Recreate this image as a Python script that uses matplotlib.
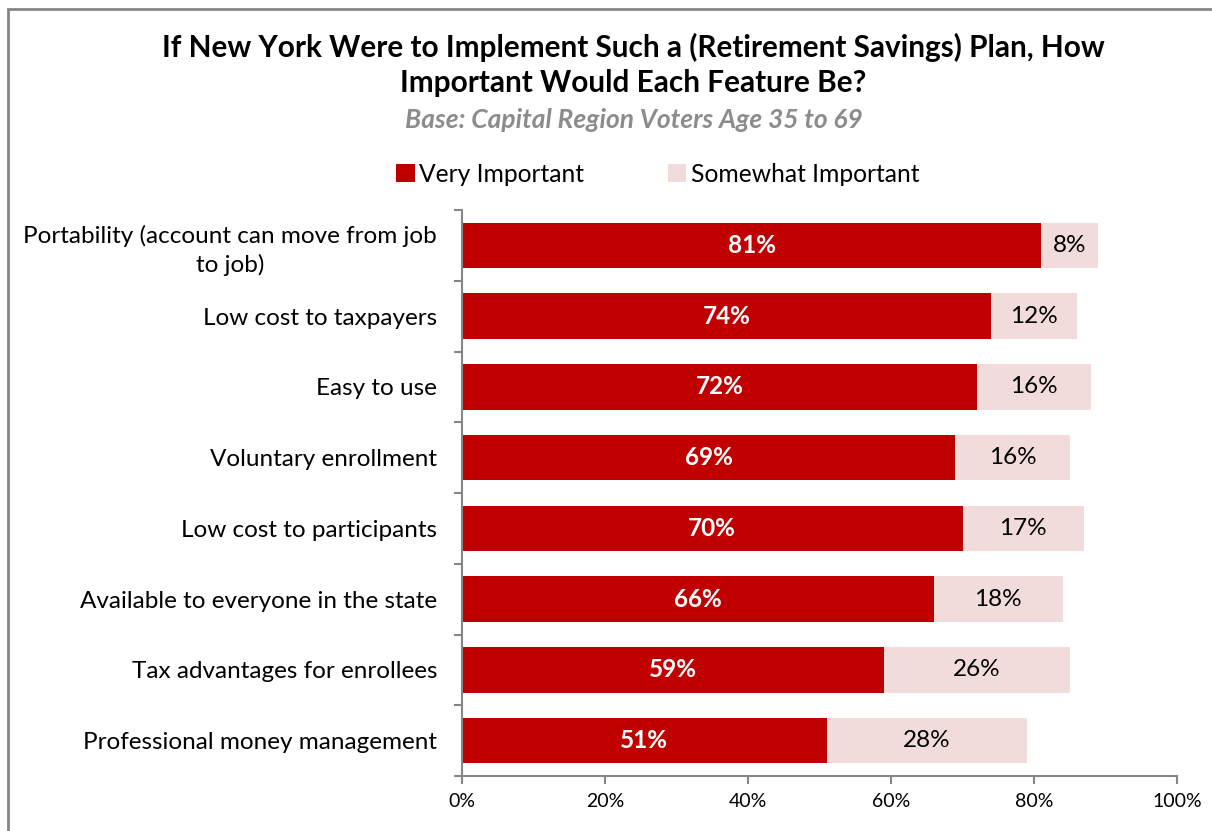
import matplotlib
matplotlib.use("Agg")
import matplotlib.pyplot as plt
from matplotlib.patches import Rectangle
import numpy as np

# survey features and shares of voters rating them important
features = ['Portability (account can move from job\nto job)', 'Low cost to taxpayers', 'Easy to use',
            'Voluntary enrollment', 'Low cost to participants', 'Available to everyone in the state',
            'Tax advantages for enrollees', 'Professional money management']
very_important = [81, 74, 72, 69, 70, 66, 59, 51]
somewhat_important = [8, 12, 16, 16, 17, 18, 26, 28]
xticks = [0, 20, 40, 60, 80, 100]

red = '#C00000'
pink = '#F2DCDB'
grey = '#868686'

plt.rcParams['font.family'] = ['Lato', 'DejaVu Sans']

fig = plt.figure(figsize=(12.12, 8.31), dpi=100)
ax = fig.add_axes([462/1212, 55/831, 715/1212, 566/831])

y = np.arange(len(features))
ax.barh(y, very_important, height=0.64, color=red, label='Very Important')
ax.barh(y, somewhat_important, left=very_important, height=0.64, color=pink, label='Somewhat Important')

for i in range(len(features)):
    ax.text(very_important[i] / 2, y[i], f'{very_important[i]}%', ha='center', va='center',
            color='white', fontsize=17.5, fontweight='bold')
    ax.text(very_important[i] + somewhat_important[i] / 2, y[i], f'{somewhat_important[i]}%',
            ha='center', va='center', color='black', fontsize=17.5)

ax.set_ylim(len(features) - 0.5, -0.5)
ax.set_xlim(0, 100)
ax.set_yticks(y)
ax.set_yticklabels(features, fontsize=17.5, multialignment='center', linespacing=1.35)
ax.set_yticks(np.arange(len(features) + 1) - 0.5, minor=True)
ax.tick_params(axis='y', which='major', length=0, pad=18)
ax.tick_params(axis='y', which='minor', length=6, color=grey, width=1.5)
ax.set_xticks(xticks)
ax.set_xticklabels([f'{t}%' for t in xticks], fontsize=14)
ax.tick_params(axis='x', length=6, color=grey, width=1.5, pad=6)

for s in ['top', 'right']:
    ax.spines[s].set_visible(False)
for s in ['left', 'bottom']:
    ax.spines[s].set_color(grey)
    ax.spines[s].set_linewidth(1.5)

fig.text(633/1212, 1 - 47/831, 'If New York Were to Implement Such a (Retirement Savings) Plan, How',
         ha='center', va='center', fontsize=21.4, fontweight='bold')
fig.text(633/1212, 1 - 83/831, 'Important Would Each Feature Be?',
         ha='center', va='center', fontsize=21.4, fontweight='bold')
fig.text(634/1212, 1 - 120/831, 'Base: Capital Region Voters Age 35 to 69',
         ha='center', va='center', fontsize=19, fontweight='bold', style='italic', color='#8C8C8C')

fig.legend(loc='center', bbox_to_anchor=(658/1212, 1 - 174/831), ncol=2, frameon=False,
           fontsize=17.7, handlelength=0.75, handleheight=0.75, handletextpad=0.2, columnspacing=3.4)

fig.patches.append(Rectangle((8/1212, -0.1), 1.2, 1 - 9/831 + 0.1, transform=fig.transFigure,
                             fill=False, edgecolor=grey, linewidth=2))

fig.savefig('out.png', dpi=100)
